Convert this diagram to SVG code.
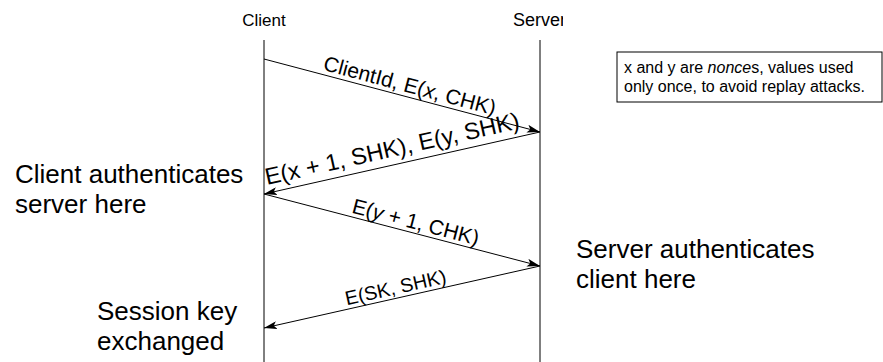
<svg xmlns="http://www.w3.org/2000/svg" width="883" height="362" viewBox="0 0 883 362">
<style>
text{font-family:"Liberation Sans",Arial,sans-serif;fill:#000}
.life{stroke:#000;stroke-width:1;fill:none}
.msg{stroke:#000;stroke-width:1;fill:none;marker-end:url(#ah)}
.hdr{font-size:17px}
.lbl{text-anchor:middle}
.big{font-size:26px}
.note{font-size:16px}
</style>
<defs>
<marker id="ah" markerWidth="14" markerHeight="8" refX="13" refY="4" orient="auto" markerUnits="userSpaceOnUse">
<path d="M0,0 L13,4 L0,8 L3,4 Z" fill="#000"/>
</marker>
<clipPath id="clipS"><rect x="0" y="0" width="563" height="362"/></clipPath>
</defs>
<g id="client">
<text class="hdr" x="264" y="26" text-anchor="middle">Client</text>
<line class="life" x1="264" y1="40" x2="264" y2="362"/>
</g>
<g id="server">
<text x="513" y="26" font-size="18" clip-path="url(#clipS)">Server</text>
<line class="life" x1="540" y1="40" x2="540" y2="362"/>
</g>
<g id="connectors">
<line class="msg" x1="264" y1="59" x2="540" y2="132"/>
<line class="msg" x1="540" y1="132" x2="264" y2="194"/>
<line class="msg" x1="264" y1="194" x2="540" y2="266"/>
<line class="msg" x1="540" y1="266" x2="264" y2="328"/>
<text class="lbl" font-size="21" transform="translate(408,92.5) rotate(14.82)">ClientId, E(<tspan font-style="italic">x</tspan>, CHK)</text>
<text class="lbl" font-size="23.5" transform="translate(393.8,156.6) rotate(-12.66)">E(x + 1, SHK), E(y, SHK)</text>
<text class="lbl" font-size="21" transform="translate(414,229) rotate(14.62)">E(<tspan font-style="italic">y</tspan> + 1, CHK)</text>
<text class="lbl" font-size="19.5" transform="translate(397,294) rotate(-12.66)">E(SK, SHK)</text>
</g>
<g id="note">
<rect x="617" y="52" width="265" height="50" fill="#fff" stroke="#000" stroke-width="1"/>
<text class="note" x="624" y="73">x and y are <tspan font-style="italic">nonce</tspan>s, values used</text>
<text class="note" x="624" y="92">only once, to avoid replay attacks.</text>
</g>
<g id="client-auth">
<text class="big" x="15" y="183">Client authenticates</text>
<text class="big" x="15" y="213">server here</text>
</g>
<g id="server-auth">
<text class="big" x="576" y="258">Server authenticates</text>
<text class="big" x="576" y="288">client here</text>
</g>
<g id="session">
<text class="big" x="97" y="320">Session key</text>
<text class="big" x="97" y="350">exchanged</text>
</g>
</svg>
